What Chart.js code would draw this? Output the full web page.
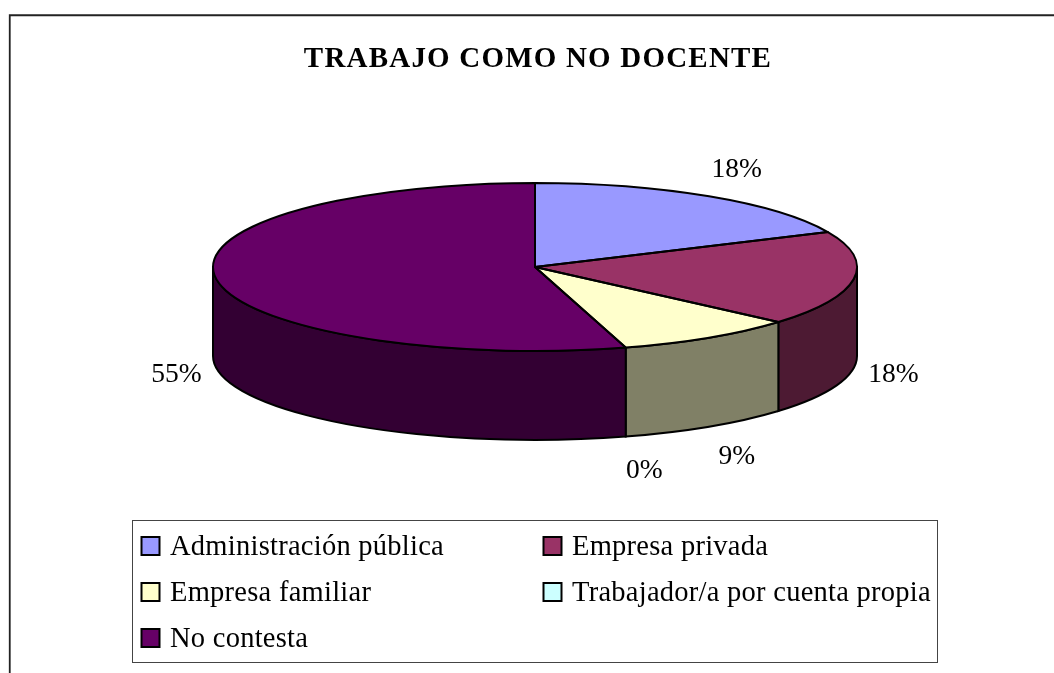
<!DOCTYPE html>
<html>
<head>
<meta charset="utf-8">
<style>html,body{margin:0;padding:0;background:#fff}canvas{display:block}</style>
<script src="https://cdn.jsdelivr.net/npm/chart.js@4"></script>
</head>
<body>
<canvas id="c" width="1054" height="673"></canvas>
<script>
const titleText = 'TRABAJO COMO NO DOCENTE';
const categories = ['Administración pública','Empresa privada','Empresa familiar','Trabajador/a por cuenta propia','No contesta'];
const counts = [2, 2, 1, 0, 6];
const percentLabels = ['18%','18%','9%','0%','55%'];
const topColors = ['#9999FF','#993366','#FFFFCC','#CCFFFF','#660066'];
const wallColors = ['#4D4D80','#4D1A33','#808066','#668080','#330033'];

// projection of the flat pie onto the tilted disc
const disc = {cx:535, cy:267, rx:322, ry:84, depth:89};
const legendBox = {x:132.5, y:520.5, w:805, h:142, rowY:[546,592,638], colX:[141.5,543.5], swatch:18, textGap:10.5};
const serif = '"Liberation Serif", serif';

function project(ctx, a){
  ctx.translate(disc.cx, disc.cy);
  ctx.scale(disc.rx/a.outerRadius, disc.ry/a.outerRadius);
  ctx.translate(-a.x, -a.y);
}
function arcsOf(chart){ return chart.getDatasetMeta(0).data; }

const pie3d = {
  id:'pie3d',
  beforeDraw(chart){ chart.ctx.letterSpacing = '1.2px'; },
  beforeDatasetsDraw(chart){
    const ctx = chart.ctx;
    ctx.save();
    // side wall: only the part of each slice facing the viewer (canvas angles 0..PI)
    arcsOf(chart).forEach((a,i)=>{
      const s = Math.max(a.startAngle,0), e = Math.min(a.endAngle,Math.PI);
      if(e <= s) return;
      ctx.beginPath();
      ctx.ellipse(disc.cx,disc.cy,disc.rx,disc.ry,0,s,e);
      ctx.ellipse(disc.cx,disc.cy+disc.depth,disc.rx,disc.ry,0,e,s,true);
      ctx.closePath();
      ctx.fillStyle = wallColors[i];
      ctx.fill();
      ctx.lineWidth = 2; ctx.strokeStyle = '#000'; ctx.stroke();
    });
    ctx.restore();
    ctx.save();
    project(ctx,arcsOf(chart)[0]);
  },
  afterDatasetsDraw(chart){
    const ctx = chart.ctx;
    ctx.restore();
    // outlines at uniform width
    ctx.save();
    ctx.lineWidth = 2; ctx.strokeStyle = '#000'; ctx.lineJoin = 'round';
    arcsOf(chart).forEach(a=>{
      if(a.endAngle - a.startAngle <= 0) return;
      ctx.beginPath();
      ctx.moveTo(disc.cx,disc.cy);
      ctx.ellipse(disc.cx,disc.cy,disc.rx,disc.ry,0,a.startAngle,a.endAngle);
      ctx.closePath();
      ctx.stroke();
    });
    ctx.restore();
    drawPercentLabels(chart);
    drawLegend(chart);
    drawFrame(chart);
  }
};

function drawPercentLabels(chart){
  const ctx = chart.ctx;
  ctx.save();
  ctx.letterSpacing = '0px';
  ctx.font = '27.5px '+serif;
  ctx.fillStyle = '#000';
  ctx.textAlign = 'center';
  ctx.textBaseline = 'middle';
  arcsOf(chart).forEach((a,i)=>{
    const m = (a.startAngle+a.endAngle)/2;
    const c = Math.cos(m), s = Math.sin(m);
    const px = disc.cx + disc.rx*c, py = disc.cy + disc.ry*s + (s>0?disc.depth:0);
    const ox = Math.sign(c)*Math.pow(Math.abs(c),0.6)*40, oy = s*34+2;
    ctx.fillText(percentLabels[i], px+ox, py+oy);
  });
  ctx.restore();
}

function drawLegend(chart){
  const ctx = chart.ctx, b = legendBox;
  ctx.save();
  ctx.fillStyle = '#fff'; ctx.strokeStyle = '#444'; ctx.lineWidth = 1;
  ctx.fillRect(b.x,b.y,b.w,b.h); ctx.strokeRect(b.x,b.y,b.w,b.h);
  ctx.font = '28.5px '+serif; ctx.textBaseline = 'middle'; ctx.letterSpacing = '0.26px';
  chart.data.labels.forEach((t,i)=>{
    const x = b.colX[i%2], y = b.rowY[Math.floor(i/2)];
    ctx.fillStyle = topColors[i]; ctx.strokeStyle = '#000'; ctx.lineWidth = 2;
    ctx.fillRect(x,y-b.swatch/2,b.swatch,b.swatch);
    ctx.strokeRect(x,y-b.swatch/2,b.swatch,b.swatch);
    ctx.fillStyle = '#000';
    ctx.fillText(t, x+b.swatch+b.textGap, y+2);
  });
  ctx.restore();
}

function drawFrame(chart){
  const ctx = chart.ctx;
  ctx.save();
  ctx.strokeStyle = '#222'; ctx.lineWidth = 1.8;
  ctx.beginPath(); ctx.moveTo(9.75,673); ctx.lineTo(9.75,15.25); ctx.lineTo(1054,15.25); ctx.stroke();
  ctx.restore();
}

new Chart(document.getElementById('c'), {
  type:'pie',
  data:{ labels:categories, datasets:[{ data:counts, backgroundColor:topColors, borderWidth:0, clip:false }] },
  options:{
    responsive:false, animation:false, events:[],
    layout:{padding:{left:22,right:0,top:0,bottom:0}},
    plugins:{
      legend:{display:false}, tooltip:{enabled:false},
      title:{display:true, text:titleText, color:'#000',
        font:{family:serif, weight:'bold', size:29, lineHeight:1.2},
        padding:{top:42,bottom:8}}
    }
  },
  plugins:[pie3d]
});
</script>
</body>
</html>
